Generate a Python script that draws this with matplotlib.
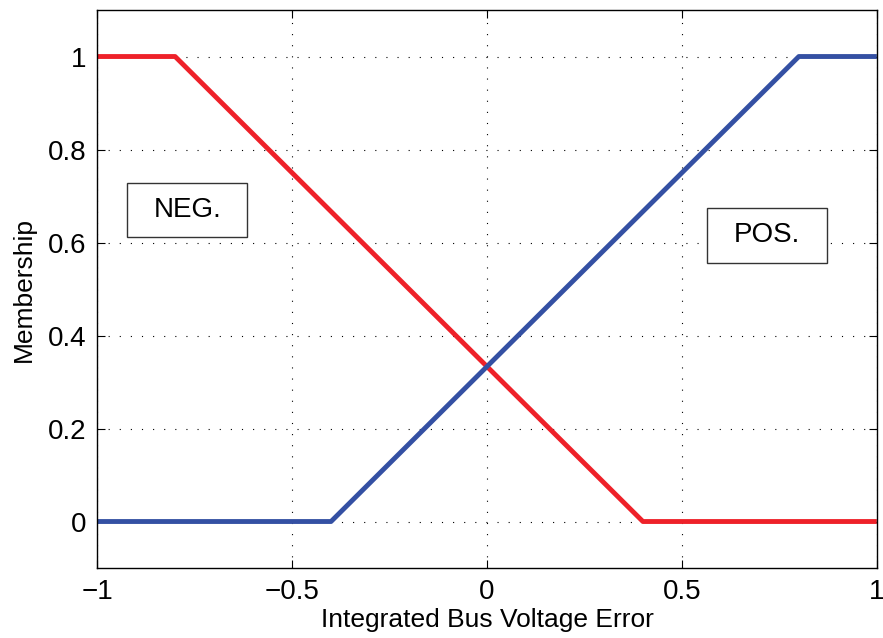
import matplotlib
matplotlib.use("Agg")
import matplotlib.pyplot as plt
from matplotlib.patches import Rectangle

plt.rcParams['font.family'] = ['Liberation Sans', 'DejaVu Sans']

neg_x = [-1, -0.8, 0.4, 1]
neg_y = [1, 1, 0, 0]
pos_x = [-1, -0.4, 0.8, 1]
pos_y = [0, 0, 1, 1]
xticks = [-1, -0.5, 0, 0.5, 1]
xticklabels = ['\u22121', '\u22120.5', '0', '0.5', '1']
yticks = [0, 0.2, 0.4, 0.6, 0.8, 1]
yticklabels = ['0', '0.2', '0.4', '0.6', '0.8', '1']

fig = plt.figure(figsize=(8.83, 6.38), dpi=100)
ax = fig.add_axes([0.110, 0.1097, 0.883, 0.8746])

ax.plot(neg_x, neg_y, color='#ee2129', lw=3.5, solid_capstyle='butt')
ax.plot(pos_x, pos_y, color='#3450a3', lw=3.5, solid_capstyle='butt')

ax.set_xlim(-1, 1)
ax.set_ylim(-0.1, 1.1)
ax.set_xticks(xticks)
ax.set_xticklabels(xticklabels)
ax.set_yticks(yticks)
ax.set_yticklabels(yticklabels)
ax.tick_params(labelsize=20, direction='in', length=6, width=0.8, top=True, right=True, pad=8)
ax.grid(True, linestyle=(0, (1, 9)), color='black', linewidth=0.8)
for s in ax.spines.values():
    s.set_linewidth(1.0)

ax.set_xlabel('Integrated Bus Voltage Error', fontsize=19, labelpad=2)
ax.set_ylabel('Membership', fontsize=19, labelpad=8)

# annotation boxes (axes-fraction positions)
for (x0, y0, w, h, label) in [(0.0385, 0.593, 0.154, 0.097, 'NEG.'),
                               (0.782, 0.547, 0.154, 0.099, 'POS.')]:
    ax.add_patch(Rectangle((x0, y0), w, h, transform=ax.transAxes, facecolor='white',
                           edgecolor='#333333', linewidth=1.0, zorder=5))
    ax.text(x0 + w / 2, y0 + h / 2, label, transform=ax.transAxes, fontsize=20,
            ha='center', va='center', zorder=6)

fig.savefig('out.png', dpi=100)
